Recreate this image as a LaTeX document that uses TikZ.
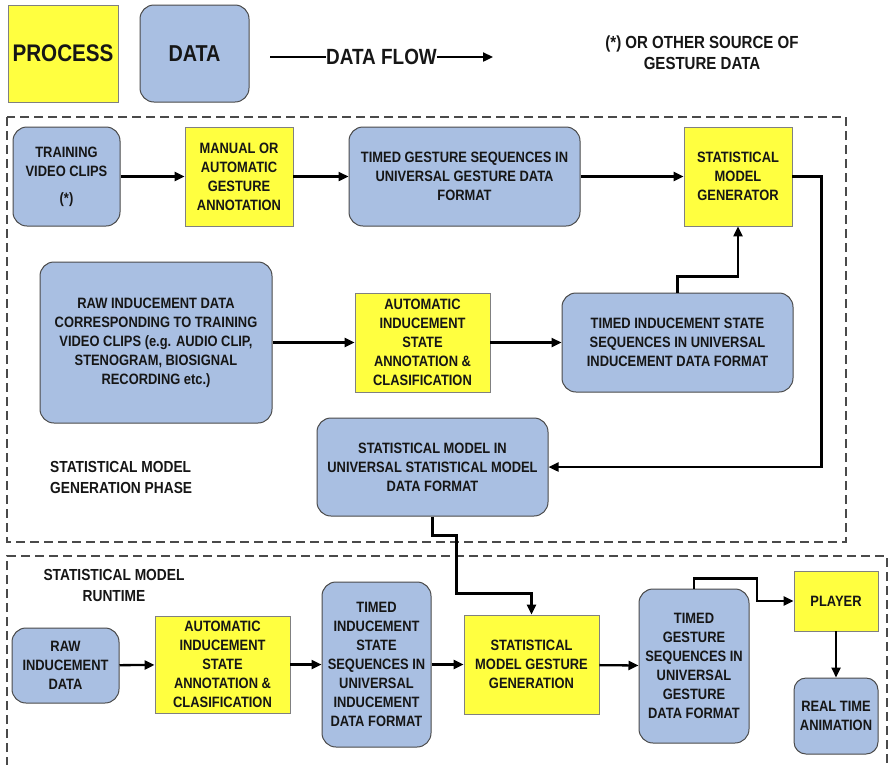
\documentclass[tikz,border=0pt]{standalone}
\usepackage{fontspec}
\setmainfont{Liberation Sans}[FakeStretch=0.86]
\usepackage{xcolor}
\usepackage{tikz}
\usetikzlibrary{arrows.meta, positioning}
\definecolor{procfill}{HTML}{FFFF40}
\definecolor{datafill}{HTML}{A9BFE2}
\definecolor{boxline}{HTML}{4A4A4A}
\definecolor{txt}{HTML}{161616}

\tikzset{
  boxtext/.style={text=txt, font=\fontsize{15}{19}\selectfont\bfseries, align=center, inner sep=0pt},
  process/.style={boxtext, fill=procfill, draw=boxline!70, line width=0.9pt},
  data/.style={boxtext, fill=datafill, draw=boxline, line width=1pt, rounded corners=14pt},
  flow/.style={line width=2.3pt, -{Triangle[length=10pt,width=9pt]}},
  phase/.style={draw=boxline, line width=1.2pt, dash pattern=on 9pt off 5pt},
  label/.style={text=txt, font=\fontsize{16}{21}\selectfont\bfseries, align=center, inner sep=0pt}
}

\begin{document}
\begin{tikzpicture}[x=1pt, y=-1pt]
\useasboundingbox (0,0) rectangle (888,764);
\fill[white] (0,0) rectangle (888,764);

% legend
\node[process, minimum width=110pt, minimum height=97pt, font=\fontsize{24}{28}\selectfont\bfseries] (proclegend) at (63,53.5) {PROCESS};
\node[data, minimum width=109pt, minimum height=97pt, font=\fontsize{23}{28}\selectfont\bfseries] (datalegend) at (194.5,53.5) {DATA};
\coordinate (flowstart) at (270,57);
\coordinate (flowend) at (493,57);
\node[label, font=\fontsize{22}{26}\selectfont\bfseries] (flowtext) at (381.5,57) {DATA FLOW};
\draw[line width=2.3pt] (flowstart) -- (flowtext.west);
\draw[flow] (flowtext.east) -- (flowend);
\node[label, font=\fontsize{17.5}{21}\selectfont\bfseries] (sourcenote) at (702,53) {(*) OR OTHER SOURCE OF\\GESTURE DATA};

% phase frames
\draw[phase] (7,117) rectangle (846,542);
\draw[phase] (7,766) -- (7,556) -- (887,556) -- (887,766);

% generation phase
\node[data, minimum width=107pt, minimum height=99pt] (trainclip) at (66.5,176.5) {TRAINING\\VIDEO CLIPS\\[8pt](*)};
\node[process, minimum width=108pt, minimum height=99pt] (annot) at (239,176.5) {MANUAL OR\\AUTOMATIC\\GESTURE\\ANNOTATION};
\node[data, minimum width=231pt, minimum height=99pt] (gseq) at (464.5,176.5) {TIMED GESTURE SEQUENCES IN\\UNIVERSAL GESTURE DATA\\FORMAT};
\node[process, minimum width=108pt, minimum height=99pt] (gen) at (738,176.5) {STATISTICAL\\MODEL\\GENERATOR};
\node[data, minimum width=232pt, minimum height=161pt] (rawdata) at (156,342.5) {RAW INDUCEMENT DATA\\CORRESPONDING TO TRAINING\\VIDEO CLIPS (e.g. AUDIO CLIP,\\STENOGRAM, BIOSIGNAL\\RECORDING etc.)};
\node[process, minimum width=135pt, minimum height=99pt] (autoann) at (422.5,342.5) {AUTOMATIC\\INDUCEMENT\\STATE\\ANNOTATION \&\\CLASIFICATION};
\node[data, minimum width=231pt, minimum height=99pt] (iseq) at (677.5,342.5) {TIMED INDUCEMENT STATE\\SEQUENCES IN UNIVERSAL\\INDUCEMENT DATA FORMAT};
\node[data, minimum width=231pt, minimum height=98pt] (model) at (432.5,467) {STATISTICAL MODEL IN\\UNIVERSAL STATISTICAL MODEL\\DATA FORMAT};
\node[label, anchor=west, align=left] (genlabel) at (50,477.5) {STATISTICAL MODEL\\GENERATION PHASE};

\draw[flow] (trainclip) -- (annot);
\draw[flow] (annot) -- (gseq);
\draw[flow] (gseq) -- (gen);
\draw[flow] (rawdata) -- (autoann);
\draw[flow] (autoann) -- (iseq);
\draw[flow] (iseq.north) -- ++(0,-16) -| (gen.south);
\draw[flow] (gen.east) -- ++(29,0) |- (model.east);

% runtime
\node[label] (rtlabel) at (114,585) {STATISTICAL MODEL\\RUNTIME};
\node[data, minimum width=107pt, minimum height=75pt] (rawin) at (65.5,665.5) {RAW\\INDUCEMENT\\DATA};
\node[process, minimum width=135pt, minimum height=97pt] (rtann) at (222.5,664.5) {AUTOMATIC\\INDUCEMENT\\STATE\\ANNOTATION \&\\CLASIFICATION};
\node[data, minimum width=109pt, minimum height=165pt] (rtiseq) at (376.5,664.5) {TIMED\\INDUCEMENT\\STATE\\SEQUENCES IN\\UNIVERSAL\\INDUCEMENT\\DATA FORMAT};
\node[process, minimum width=135pt, minimum height=99pt] (gengest) at (531.5,664.5) {STATISTICAL\\MODEL GESTURE\\GENERATION};
\node[data, minimum width=110pt, minimum height=154pt] (rtgseq) at (694,666) {TIMED\\GESTURE\\SEQUENCES IN\\UNIVERSAL\\GESTURE\\DATA FORMAT};
\node[process, minimum width=84pt, minimum height=60pt] (player) at (836,601) {PLAYER};
\node[data, minimum width=84pt, minimum height=76pt, rounded corners=12pt] (anim) at (836,716) {REAL TIME\\ANIMATION};

\draw[flow] (model.south) -- ++(0,19) -- ++(24,0) -- ++(0,58) -| (gengest.north);
\draw[flow] (rawin) -- (rtann);
\draw[flow] (rtann) -- (rtiseq);
\draw[flow] (rtiseq) -- (gengest);
\draw[flow] (gengest) -- (rtgseq);
\draw[flow] (rtgseq.north) -- ++(0,-10) -- ++(63,0) |- (player.west);
\draw[flow] (player) -- (anim);
\end{tikzpicture}
\end{document}
